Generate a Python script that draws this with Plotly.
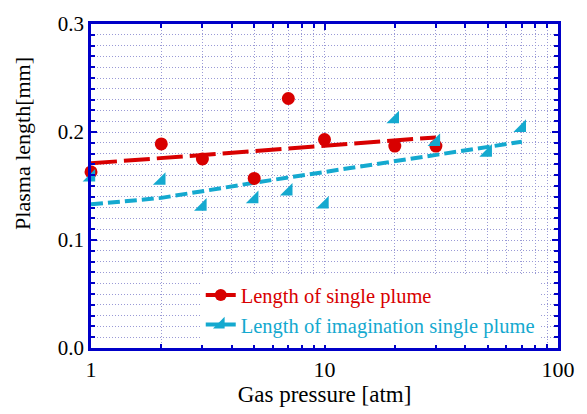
import plotly.graph_objects as go

# ---- data ----
pressure_single = [1, 2, 3, 5, 7, 10, 20, 30]
length_single = [0.163, 0.189, 0.175, 0.157, 0.231, 0.193, 0.187, 0.187]

pressure_imag = [1, 2, 3, 5, 7, 10, 20, 30, 50, 70]
length_imag = [0.158, 0.155, 0.131, 0.138, 0.145, 0.133, 0.212, 0.191, 0.181, 0.204]

fit_single_x = [1, 30]
fit_single_y = [0.171, 0.195]

fit_imag_x = [1, 2, 5, 10, 20, 30, 50, 70]
fit_imag_y = [0.133, 0.139, 0.153, 0.163, 0.173, 0.179, 0.186, 0.191]

x_major = [1, 10, 100]
x_major_text = ["1", "10", "100"]
x_minor = [2, 3, 4, 5, 6, 7, 8, 9, 20, 30, 40, 50, 60, 70, 80, 90]
y_major = [0.0, 0.1, 0.2, 0.3]
y_major_text = ["0.0", "0.1", "0.2", "0.3"]

RED = "#d80000"
CYAN = "#14a9cf"
AXIS = "#0000c8"
GRID = "#9a9ad6"
FONT = "Liberation Serif"

fig = go.Figure()

fig.add_trace(go.Scatter(x=fit_single_x, y=fit_single_y, mode="lines",
                         line=dict(color=RED, width=4, dash="26px,7px"),
                         showlegend=False, hoverinfo="skip"))
fig.add_trace(go.Scatter(x=fit_imag_x, y=fit_imag_y, mode="lines",
                         line=dict(color=CYAN, width=4, dash="12px,5px"),
                         showlegend=False, hoverinfo="skip"))

fig.add_trace(go.Scatter(x=pressure_single, y=length_single, mode="markers",
                         marker=dict(symbol="circle", size=13, color=RED),
                         showlegend=False, cliponaxis=False))
fig.add_trace(go.Scatter(x=pressure_imag, y=length_imag, mode="markers",
                         marker=dict(symbol="triangle-se", size=14, color=CYAN),
                         showlegend=False, cliponaxis=False))

# legend entries (line + marker symbols)
fig.add_trace(go.Scatter(x=[None], y=[None], mode="lines+markers",
                         name=f'<span style="color:{RED}">Length of single plume</span>',
                         line=dict(color=RED, width=4),
                         marker=dict(symbol="circle", size=12, color=RED)))
fig.add_trace(go.Scatter(x=[None], y=[None], mode="lines+markers",
                         name=f'<span style="color:{CYAN}">Length of imagination single plume</span>',
                         line=dict(color=CYAN, width=4),
                         marker=dict(symbol="triangle-se", size=13, color=CYAN)))

fig.update_layout(
    width=587, height=414,
    margin=dict(l=91, r=22, t=20, b=64),
    paper_bgcolor="white", plot_bgcolor="white",
    font=dict(family=FONT, size=20, color="black"),
    legend=dict(x=0.235, y=0.225, xanchor="left", yanchor="top",
                bgcolor="white", borderwidth=0,
                font=dict(family=FONT, size=20.5),
                tracegroupgap=0, itemwidth=30),
    annotations=[dict(text="Plasma length[mm]", textangle=-90,
                      xref="paper", yref="paper", x=-0.1456, y=0.63,
                      xanchor="center", yanchor="middle", showarrow=False,
                      font=dict(family=FONT, size=22, color="black"))],
)

fig.update_xaxes(
    type="log", range=[0, 2],
    tickmode="array", tickvals=x_major, ticktext=x_major_text,
    ticks="inside", ticklen=6, tickwidth=2, tickcolor=AXIS,
    showline=True, linecolor=AXIS, linewidth=2.5, mirror="ticks",
    showgrid=True, gridcolor=GRID, gridwidth=1, griddash="1px,2px",
    minor=dict(tickmode="array", tickvals=x_minor, ticks="inside", ticklen=4,
               tickwidth=1.5, tickcolor=AXIS, showgrid=True, gridcolor=GRID,
               gridwidth=1, griddash="1px,2px"),
    zeroline=False,
    title=dict(text="Gas pressure [atm]", font=dict(family=FONT, size=23), standoff=4),
    tickfont=dict(family=FONT, size=22),
)
fig.update_yaxes(
    range=[0, 0.3],
    tickmode="array", tickvals=y_major, ticktext=y_major_text,
    ticks="inside", ticklen=6, tickwidth=2, tickcolor=AXIS,
    showline=True, linecolor=AXIS, linewidth=2.5, mirror="ticks",
    showgrid=True, gridcolor=GRID, gridwidth=1, griddash="1px,2px",
    minor=dict(dtick=0.01, tick0=0, ticks="inside", ticklen=4, tickwidth=1.5,
               tickcolor=AXIS, showgrid=True, gridcolor=GRID, gridwidth=1,
               griddash="1px,2px"),
    zeroline=False,
    tickfont=dict(family=FONT, size=21),
)

fig.write_html("out.html")
